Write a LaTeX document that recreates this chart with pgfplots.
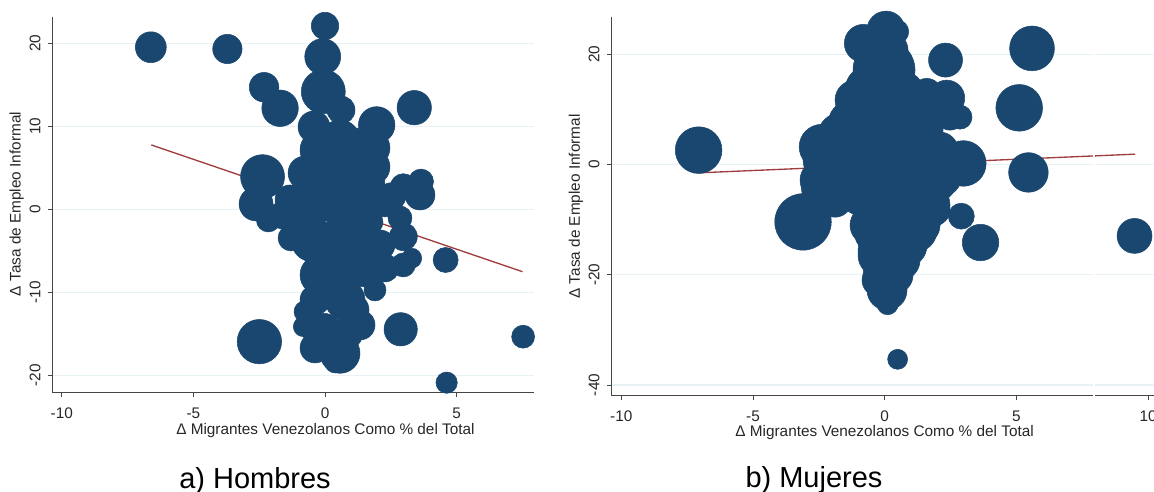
\documentclass[border=0pt]{standalone}
\usepackage{pgfplots}
\pgfplotsset{compat=1.18}
\usepackage{fontspec}
\setmainfont{Liberation Sans}
\definecolor{stnavy}{RGB}{26,71,111}
\definecolor{stmaroon}{RGB}{160,60,62}
\definecolor{stgrid}{RGB}{232,242,244}
\definecolor{staxis}{RGB}{70,70,70}

\pgfplotstableread{
x y s
-6.617 19.52 11.6
-3.709 19.31 11.0
-2.316 14.70 11.1
-1.708 12.17 13.7
-2.373 3.93 16.5
-2.494 -15.95 16.65
3.390 12.24 12.9
4.620 -20.89 8.0
7.525 -15.35 8.6
4.582 -6.11 9.4
2.874 -14.46 12.5
0.000 22.08 10.3
-0.087 18.39 13.5
-0.065 14.17 16.5
0.607 11.96 10.5
-0.418 9.92 12.0
1.963 10.16 13.7
1.784 7.39 13.5
0.569 8.35 15.0
-0.759 4.37 12.75
0.380 4.13 18.75
1.784 5.10 13.5
2.973 2.72 9.75
3.645 3.33 9.4
3.607 1.72 11.25
2.532 1.52 10.5
2.847 -1.05 9.0
2.973 -3.30 10.5
3.292 -5.90 7.5
2.973 -6.71 9.0
1.898 -9.72 8.25
-2.620 0.64 12.75
-2.153 -1.29 9.0
-1.291 -3.46 9.75
-0.759 -12.34 8.25
-0.824 -14.14 7.5
0.569 -17.35 15.0
0.824 -14.94 12.0
-0.065 -14.94 15.0
0.190 -5.71 18.75
-0.456 -3.70 16.5
0.824 -1.69 15.0
1.063 -12.13 12.0
0.444 -8.92 16.5
1.519 -6.71 16.5
1.139 1.12 18.75
-1.329 1.12 11.25
-1.595 -0.69 10.5
1.708 -1.53 9.75
2.278 0.52 9.0
-0.190 7.14 15.0
1.139 7.14 16.5
1.519 2.93 15.0
-0.190 1.12 16.5
-0.949 -1.29 13.5
-0.190 -7.92 15.0
1.139 -4.30 15.0
2.088 -4.30 11.25
2.278 -7.07 10.5
-0.380 -10.93 11.25
0.759 -10.93 15.0
1.329 -13.94 11.25
-0.380 -16.71 11.25
0.380 -18.51 7.5
}\hombres

\pgfplotstableread{
x y s
-7.065 2.60 17.5
5.592 21.05 16.8
5.106 10.27 17.5
5.456 -1.45 14.85
9.484 -12.96 13.1
2.308 18.93 12.75
3.637 -14.16 13.7
2.908 -9.38 9.75
0.490 -35.34 7.5
0.110 -25.35 7.9
-3.102 -10.42 21.2
0.011 4.41 22.5
0.581 -2.85 22.5
0.201 -10.11 21.0
-0.178 -15.55 16.5
0.771 -14.65 16.5
0.011 -20.09 16.5
0.087 -22.81 15.0
1.530 -7.39 18.75
1.910 -2.85 16.5
1.150 -11.92 16.5
-0.558 -12.83 11.25
-0.938 -5.57 15.0
0.049 24.37 14.25
-0.812 21.96 14.25
0.456 24.07 9.0
-0.027 17.11 23.25
-1.128 11.67 15.0
1.595 12.89 11.25
2.354 12.03 13.5
2.859 8.58 9.0
2.984 0.18 17.1
-2.392 3.19 16.9
-1.507 8.04 12.0
-2.331 -4.07 16.5
-1.887 -6.48 12.75
-0.178 10.76 22.5
1.150 6.23 21.0
-1.128 0.78 21.0
1.720 0.78 15.0
-0.368 21.65 15.0
0.201 20.74 13.5
-0.558 13.48 18.75
0.581 12.58 18.75
1.720 9.86 15.0
2.479 8.95 11.25
-1.317 8.04 15.0
-1.697 5.32 16.5
-2.266 0.78 16.5
-1.317 2.60 18.75
-0.178 0.78 21.0
0.961 2.60 21.0
2.100 2.60 13.5
2.100 -1.94 16.5
-2.456 -2.85 15.0
-1.317 -3.76 16.5
0.201 -5.57 18.75
1.530 -4.66 18.75
1.910 -8.29 11.25
1.340 -11.01 15.0
-0.558 -11.01 15.0
0.581 -12.83 18.75
-0.178 -16.46 16.5
0.581 -17.37 15.0
0.391 -20.09 13.5
-0.254 -21.00 12.0
0.011 -23.72 9.0
}\mujeres

\pgfplotsset{
  bub/.style={scatter, only marks, mark=*,
    scatter/use mapped color={draw=stnavy, fill=stnavy},
    visualization depends on={\thisrow{s}\as\msz},
    scatter/@pre marker code/.append style={/tikz/mark size=\msz, /tikz/line width=0.4pt}},
  stata/.style={scale only axis, anchor=south west,
    axis x line=bottom, axis y line=left,
    axis line style={staxis, -, line width=0.7pt},
    tick align=outside, major tick length=3.4pt,
    tick style={staxis, line width=0.7pt},
    ymajorgrids, major grid style={stgrid, line width=0.8pt},
    clip=false, /pgf/number format/assume math mode=true,
    tick label style={font=\fontsize{11.5}{13.8}\selectfont, text=black!85},
    yticklabel style={rotate=90, anchor=south, inner sep=0pt},
    xticklabel style={anchor=north, inner sep=0pt},
    xticklabel shift=8pt, yticklabel shift=5.3pt},
}

\begin{document}
\begin{tikzpicture}
\useasboundingbox (0,0) rectangle (865.5pt,369pt);
\clip (0,0) rectangle (865.5pt,369pt);

\begin{axis}[stata, at={(39.225pt,74.775pt)}, width=361.5pt, height=281.7pt,
  xmin=-10.36, xmax=7.95, ymin=-22.05, ymax=23.2,
  xtick={-10,-5,0,5}, xticklabels={-10,-5,0,5},
  ytick={-20,-10,0,10,20}, yticklabels={-20,-10,0,10,20}]
\addplot[bub] table[x=x,y=y] {\hombres};
\addplot[stmaroon, line width=1pt] coordinates {(-6.60,7.75) (7.50,-7.52)};
\end{axis}

\begin{axis}[stata, at={(458.475pt,72.225pt)}, width=412.5pt, height=284.25pt,
  xmin=-10.38, xmax=10.5, ymin=-41.94, ymax=26.8,
  xtick={-10,-5,0,5,10}, xticklabels={-10,-5,0,5,10},
  ytick={-40,-20,0,20}, yticklabels={-40,-20,0,20}]
\addplot[bub] table[x=x,y=y] {\mujeres};
\addplot[stmaroon, line width=1pt] coordinates {(-7.065,-1.52) (9.51,1.87)};
\end{axis}

\fill[white] (819.9pt,60pt) rectangle (821.4pt,369pt);

\node[rotate=90, font=\fontsize{11.5}{13.8}\selectfont, text=black!85] at (12.45pt,216pt) {Δ Tasa de Empleo Informal};
\node[rotate=90, font=\fontsize{11.5}{13.8}\selectfont, text=black!85] at (432pt,214.1pt) {Δ Tasa de Empleo Informal};
\node[anchor=base, inner sep=0pt, font=\fontsize{11.5}{13.8}\selectfont, text=black!85] at (244.1pt,42.8pt) {Δ Migrantes Venezolanos Como \% del Total};
\node[anchor=base, inner sep=0pt, font=\fontsize{11.5}{13.8}\selectfont, text=black!85] at (663.45pt,41.5pt) {Δ Migrantes Venezolanos Como \% del Total};
\node[anchor=base, inner sep=0pt, font=\fontsize{21.75}{26}\selectfont] at (191.25pt,2.5pt) {a) Hombres};
\node[anchor=base, inner sep=0pt, font=\fontsize{21.75}{26}\selectfont] at (610.5pt,3pt) {b) Mujeres};
\end{tikzpicture}
\end{document}
